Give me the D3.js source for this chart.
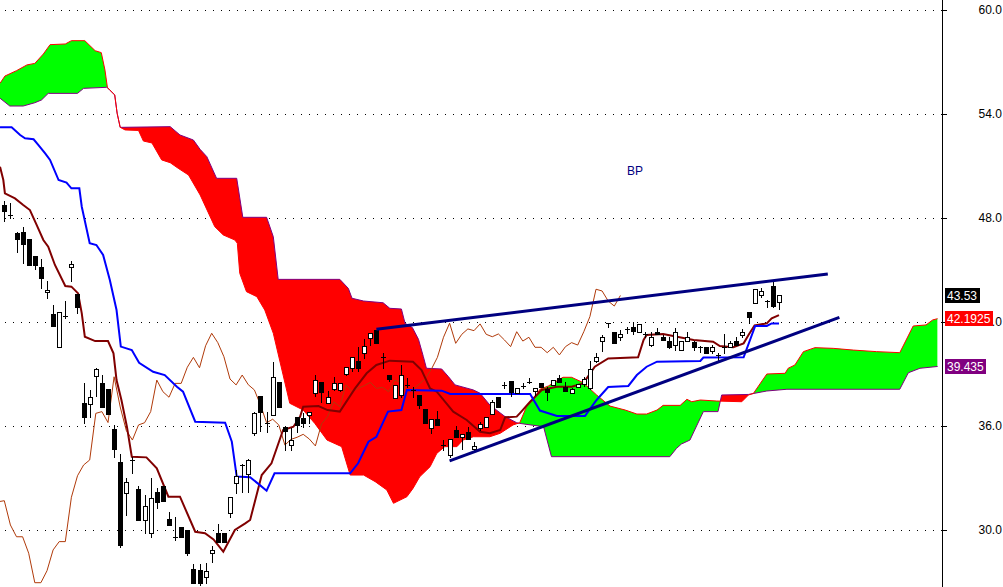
<!DOCTYPE html>
<html><head><meta charset="utf-8">
<script src="https://cdn.jsdelivr.net/npm/d3@7"></script>
<style>html,body{margin:0;padding:0;background:#fff;} svg{display:block;font-family:"Liberation Sans",Arial,sans-serif;}</style>
</head><body><svg id="chart" width="1003" height="587"></svg>
<script>
const title = "BP";
const yTicks = [30, 36, 42, 48, 54, 60];
const chikouShift = 26;

const open = [48.75,48.16,47.15,47.22,46.79,45.81,45.15,43.71,42.46,40.58,
42.36,45.16,43.62,37.34,37.27,38.88,38.46,38.13,35.81,33.91,
32.12,34.04,32.35,30.58,29.84,32.17,32.54,30.62,29.61,30.16,
30.00,27.73,27.69,27.27,28.69,29.81,29.85,31.00,32.69,33.75,
33.23,35.61,37.73,36.20,36.63,38.54,35.96,34.88,36.54,36.44,
36.63,37.89,38.52,37.34,38.12,38.08,39.00,39.33,39.75,40.19,
41.06,41.54,40.00,38.94,37.63,37.79,38.38,38.08,37.76,36.99,
35.87,36.43,34.90,34.33,35.77,35.35,35.64,34.66,35.87,35.96,
36.68,37.66,38.37,38.61,37.89,38.33,38.52,38.04,38.46,38.12,
38.36,38.75,38.27,37.92,38.27,38.42,38.17,39.77,40.92,41.93,
41.44,41.12,41.60,41.73,41.44,41.29,40.67,41.40,41.15,40.90,
40.67,40.39,40.90,40.86,40.54,40.58,40.34,40.10,40.58,40.58,
40.92,41.25,42.59,43.08,43.56,43.21,44.08,43.17];

const high = [49.00,48.88,47.22,47.47,46.79,45.81,45.63,44.37,42.98,42.56,
43.21,45.52,43.62,38.46,38.08,39.33,38.94,38.13,36.06,34.37,
33.02,34.23,32.54,32.02,32.98,32.40,32.54,31.06,30.77,30.16,
30.00,28.04,28.04,28.11,29.08,30.35,29.85,31.89,33.46,33.79,
34.08,36.83,37.73,36.83,39.71,38.54,35.96,35.89,36.54,36.73,
36.83,38.94,38.52,38.02,38.81,38.46,39.42,39.96,40.58,41.00,
41.35,41.54,40.19,38.94,38.37,39.52,38.75,38.27,37.76,36.99,
36.39,36.88,35.19,35.23,36.00,35.52,35.96,35.09,36.25,36.54,
37.50,37.66,38.56,38.61,38.17,38.50,38.75,38.17,38.46,38.27,
38.65,38.94,38.56,38.17,38.44,38.85,39.77,40.23,41.25,41.93,
41.44,41.54,41.69,41.98,41.89,41.44,41.44,41.63,41.25,41.15,
41.63,40.90,41.44,40.92,40.61,40.58,40.67,40.19,41.31,40.92,
41.15,41.58,42.59,43.89,43.94,43.27,44.33,43.55];

const low = [47.85,47.99,46.01,45.43,45.29,45.04,43.98,43.37,41.79,40.58,
42.21,44.38,42.50,36.19,36.54,37.73,37.11,36.69,34.19,29.03,
30.87,33.27,30.58,29.84,29.61,31.29,31.69,30.29,29.42,29.61,
28.56,26.96,26.83,26.96,28.17,29.33,29.33,30.77,32.15,32.21,
32.21,35.48,35.74,35.67,36.63,37.10,34.62,34.62,35.67,35.96,
36.19,37.73,37.40,37.31,38.08,38.00,38.94,39.19,39.17,39.91,
40.67,40.81,39.36,38.60,37.63,37.69,38.23,37.69,37.04,36.19,
35.58,36.06,34.62,34.19,35.35,34.66,35.25,34.62,35.77,35.96,
36.68,37.11,38.17,37.73,37.89,38.17,38.46,37.79,38.23,37.50,
38.36,38.52,38.04,37.90,38.27,38.33,38.12,39.71,40.34,41.73,
40.77,40.96,41.35,41.31,41.44,41.15,40.62,41.31,40.96,40.48,
40.39,40.39,40.90,40.39,40.29,40.23,40.23,39.71,40.23,40.54,
40.67,41.15,41.93,43.08,43.46,42.88,42.88,42.73];

const close = [48.42,48.16,46.81,46.51,45.29,45.29,44.55,43.85,41.79,42.56,
42.36,45.33,42.88,36.50,37.65,39.27,37.11,36.69,34.66,29.13,
32.75,34.04,30.58,31.38,31.86,31.63,31.69,30.29,29.61,29.61,
28.66,26.96,26.96,27.65,28.85,29.33,29.33,31.89,33.13,33.75,
34.04,36.73,36.83,36.20,38.84,37.10,35.74,35.19,36.06,36.19,
36.83,38.65,37.98,37.66,38.46,38.46,39.39,39.96,39.36,40.63,
41.35,40.81,40.00,38.71,38.37,38.94,38.38,38.08,37.21,36.19,
36.39,36.06,34.90,35.23,35.35,35.52,35.25,34.85,36.12,36.54,
37.40,37.11,38.37,37.98,38.17,38.33,38.52,38.17,38.23,37.98,
38.65,38.52,38.04,38.12,38.41,38.72,39.27,39.96,41.12,41.93,
40.77,41.29,41.60,41.50,41.89,41.29,41.15,41.31,40.96,40.58,
41.44,40.90,41.12,40.54,40.54,40.23,40.54,40.10,40.58,40.81,
40.67,41.44,42.31,43.89,43.79,43.21,42.92,43.53];

// [bar index, price]
const tenkan = [[-0.7,50.96],[-0.16,50.19],[0.1,49.42],[1.75,49.13],[3.1,48.75],[4.2,48.46],[5.3,47.60],[6.4,46.73],
[7.2,46.34],[8.3,45.29],[10.0,44.08],[11.0,44.04],[12.1,43.65],[12.7,42.50],[13.2,41.15],[14.9,40.90],[17.0,40.90],
[17.9,40.19],[18.4,38.65],[19.2,37.50],[20.1,35.96],[20.9,34.23],[23.3,34.19],[25.0,33.56],[26.9,31.92],[28.8,31.92],
[31.3,29.90],[32.9,29.81],[34.3,29.46],[35.9,28.75],[37.8,30.00],[39.5,30.38],[40.3,30.58],[42.2,33.17],[43.8,33.85],
[45.7,35.77],[47.4,35.96],[48.5,36.54],[49.0,37.11],[51.5,37.15],[53.0,36.92],[55.0,36.83],[57.5,38.17],[59.4,39.04],
[61.0,39.52],[63.2,39.77],[67.0,39.71],[68.4,39.23],[69.8,38.17],[70.9,37.98],[73.6,36.83],[75.8,36.35],[78.0,35.67],
[79.6,35.58],[81.3,35.77],[82.1,36.50],[84.0,36.54],[84.5,36.73],[86.2,37.40],[88.1,38.08],[90.6,38.27],[93.0,38.27],
[94.9,38.46],[96.8,39.42],[99.0,39.90],[103.9,39.96],[104.8,40.96],[105.3,41.25],[108.0,41.31],[113.0,40.96],
[116.2,40.86],[117.3,40.61],[119.5,40.54],[121.2,40.77],[122.0,41.25],[123.0,41.80],[125.0,41.92],[125.8,42.21],[127.0,42.40]];

const kijun = [[-0.7,53.23],[1.2,53.23],[2.6,52.79],[3.4,52.60],[4.8,52.54],[5.6,52.21],[6.7,51.73],[7.5,51.35],
[8.9,50.19],[10.2,50.04],[11.0,49.71],[12.3,49.71],[12.7,48.65],[14.0,46.54],[15.1,46.44],[16.2,45.87],[17.3,44.42],
[18.4,42.69],[19.1,40.58],[20.9,40.38],[22.1,39.65],[24.4,39.13],[26.3,38.94],[28.3,38.27],[29.3,37.98],[31.3,36.25],
[36.2,36.19],[37.3,35.09],[38.1,33.08],[40.3,33.04],[41.9,32.59],[43.0,32.27],[44.3,33.27],[56.7,33.27],[58.0,33.85],
[59.7,35.09],[61.0,35.38],[62.9,36.83],[65.1,36.92],[66.0,38.08],[71.7,38.04],[73.1,37.85],[86.2,37.85],[87.8,36.89],
[90.6,36.58],[95.2,36.58],[95.7,36.83],[97.1,37.50],[99.0,38.25],[102.3,38.31],[103.7,38.94],[105.3,39.42],[107.0,39.71],
[114.1,39.75],[114.6,39.95],[121.2,39.96],[123.1,41.77],[125.0,41.77],[125.8,41.92],[127.0,41.92]];

const spanA = [[-0.7,55.77],[0.1,56.19],[2.0,56.50],[3.7,56.83],[5.0,56.92],[6.4,57.46],[7.5,58.00],[10.0,58.04],
[11.0,58.23],[13.2,58.23],[14.9,57.65],[15.9,57.54],[16.5,56.54],[16.9,55.54],[17.3,55.38],[18.1,55.10],[18.5,54.04],
[19.0,53.23],[19.8,53.08],[22.0,53.05],[22.8,52.44],[24.2,52.33],[25.8,51.35],[27.2,51.19],[28.5,50.87],[30.2,50.48],
[32.1,49.33],[34.5,47.50],[35.9,47.02],[37.8,46.73],[38.2,46.54],[38.6,44.81],[39.7,43.75],[41.4,43.46],[42.7,42.69],
[44.1,41.35],[46.8,37.31],[49.0,36.92],[50.9,36.15],[52.9,35.19],[55.3,34.81],[56.7,33.17],[58.9,33.17],[60.8,32.79],
[62.7,32.31],[63.8,31.54],[66.0,31.92],[67.0,32.40],[68.1,33.07],[69.8,33.65],[70.9,34.42],[72.2,34.81],[74.2,34.81],
[75.2,35.19],[76.9,35.38],[79.6,35.38],[81.3,35.58],[83.4,36.06],[84.5,36.19],[85.6,37.11],[86.7,37.50],[87.8,38.12],
[89.2,38.31],[91.6,38.81],[93.0,38.81],[94.9,38.50],[97.1,37.79],[99.3,37.15],[101.8,36.92],[103.7,36.69],[105.3,36.69],
[107.0,36.92],[108.0,37.19],[110.8,37.19],[111.9,37.54],[112.7,37.40],[114.1,37.50],[116.8,37.44],[120.9,37.40],
[122.0,37.79],[122.8,37.88],[125.0,39.00],[128.0,39.04],[128.5,39.33],[129.6,39.52],[131.0,40.29],[132.9,40.52],
[135.9,40.48],[139.2,40.38],[143.0,40.29],[146.8,40.23],[149.0,41.77],[151.1,41.83],[152.2,42.12],[153.0,42.1925]];

const spanB = [[-0.7,54.91],[0.9,54.46],[3.1,54.46],[5.0,54.65],[6.1,54.81],[7.2,55.19],[12.0,55.19],[13.0,55.48],
[16.8,55.54],[17.3,55.38],[18.1,55.10],[18.5,54.04],[19.0,53.23],[27.2,53.27],[28.8,52.79],[31.0,52.50],[32.1,51.96],
[33.2,51.54],[34.8,50.29],[38.1,50.29],[39.1,48.04],[43.0,48.04],[44.1,46.92],[44.9,44.46],[55.0,44.46],[56.4,43.94],
[57.0,43.37],[58.9,43.21],[62.1,43.11],[63.2,42.79],[65.1,42.75],[65.7,41.92],[66.9,41.68],[67.9,41.00],[68.7,40.00],
[69.2,39.33],[71.7,39.29],[72.8,38.85],[73.9,38.37],[76.9,38.08],[78.0,37.89],[79.6,37.21],[82.1,36.54],[84.0,36.19],
[84.5,36.15],[88.4,35.96],[89.7,34.23],[109.1,34.23],[110.2,34.71],[111.0,34.96],[112.4,35.19],[114.6,36.83],
[117.0,36.83],[117.6,37.79],[122.0,37.82],[125.0,38.02],[128.3,38.12],[146.8,38.12],[148.2,39.07],[150.1,39.33],
[153.0,39.435]];

const trendUpper = [[61.0,41.58],[135.0,44.77]];
const trendLower = [[73.0,33.99],[136.9,42.27]];

const valueLabels = ["43.53","42.1925","39.435"];
const valueLevels = [43.53, 42.1925, 39.435];
const valueColors = ["#000000","#ff0000","#800080"];

// ---------- drawing ----------
const W = 1003, H = 587, plotRight = 942;
const svg = d3.select("#chart");
const x = d3.scaleLinear().domain([0, 154]).range([4.3, 4.3 + 154 * 6.1]);
const y = d3.scaleLinear().domain([30, 60]).range([530, 10]);
const px = d => x(d[0]), py = d => y(d[1]);

svg.append("rect").attr("width", W).attr("height", H).attr("fill", "#fff");
const defs = svg.append("defs");
defs.append("clipPath").attr("id", "plot").append("rect")
  .attr("x", 0).attr("y", 0).attr("width", plotRight).attr("height", H);
defs.append("clipPath").attr("id", "aboveB").append("path")
  .attr("d", d3.area().x(px).y0(0).y1(py)(spanB));
defs.append("clipPath").attr("id", "belowB").append("path")
  .attr("d", d3.area().x(px).y0(H).y1(py)(spanB));

// dotted grid
const grid = svg.append("g").attr("shape-rendering", "crispEdges");
grid.selectAll("line").data(yTicks).join("line")
  .attr("x1", 5).attr("x2", plotRight)
  .attr("y1", d => Math.round(y(d)) + 0.5).attr("y2", d => Math.round(y(d)) + 0.5)
  .attr("stroke", "#000").attr("stroke-dasharray", "1,7");

const plot = svg.append("g").attr("clip-path", "url(#plot)");

// cloud
plot.append("path").attr("d", d3.area().x(px).y0(H).y1(py)(spanA))
  .attr("fill", "#00ff00").attr("clip-path", "url(#aboveB)");
plot.append("path").attr("d", d3.area().x(px).y0(0).y1(py)(spanA))
  .attr("fill", "#ff0000").attr("clip-path", "url(#belowB)");

const line = d3.line().x(px).y(py);
plot.append("path").attr("d", line(spanB)).attr("fill", "none").attr("stroke", "#800080").attr("stroke-width", 1);
plot.append("path").attr("d", line(spanA)).attr("fill", "none").attr("stroke", "#ff0000").attr("stroke-width", 1);

// chikou (closes shifted back)
plot.append("path")
  .attr("d", d3.line().x((c, k) => x(k - chikouShift)).y(c => y(c))(close))
  .attr("fill", "none").attr("stroke", "#b03a0a").attr("stroke-width", 1);

// tenkan & kijun
plot.append("path").attr("d", line(tenkan)).attr("fill", "none").attr("stroke", "#800000").attr("stroke-width", 2);
plot.append("path").attr("d", line(kijun)).attr("fill", "none").attr("stroke", "#0000ff").attr("stroke-width", 2);

// candles
const cg = plot.append("g").attr("shape-rendering", "crispEdges");
close.forEach((c, i) => {
  const o = open[i], h = high[i], l = low[i];
  const cx = Math.round(x(i));
  cg.append("line").attr("x1", cx + 0.5).attr("x2", cx + 0.5)
    .attr("y1", Math.round(y(h))).attr("y2", Math.round(y(l)) + 1)
    .attr("stroke", "#000");
  if (c === o) {
    const yy = Math.round(y(c)) + 0.5;
    cg.append("line").attr("x1", cx - 2).attr("x2", cx + 3).attr("y1", yy).attr("y2", yy).attr("stroke", "#000");
  } else {
    const top = Math.round(y(Math.max(o, c))), bot = Math.round(y(Math.min(o, c)));
    cg.append("rect").attr("x", cx - 1.5).attr("y", top + 0.5)
      .attr("width", 4).attr("height", Math.max(bot - top, 1))
      .attr("fill", c > o ? "#fff" : "#000").attr("stroke", "#000");
  }
});

// trendlines
[trendUpper, trendLower].forEach(t => {
  plot.append("path").attr("d", line(t)).attr("fill", "none")
    .attr("stroke", "#000080").attr("stroke-width", 3);
});

// title
svg.append("text").attr("x", 627).attr("y", 175).attr("fill", "#000080")
  .attr("font-size", 12).text(title);

// axis
svg.append("line").attr("x1", plotRight + 0.5).attr("x2", plotRight + 0.5).attr("y1", 0).attr("y2", H)
  .attr("stroke", "#000").attr("shape-rendering", "crispEdges");
const axis = svg.append("g").attr("transform", `translate(${plotRight + 0.5},0)`)
  .call(d3.axisRight(y).tickValues(yTicks).tickFormat(d3.format(".1f")).tickSizeInner(4).tickSizeOuter(0).tickPadding(32));
axis.select(".domain").remove();
axis.selectAll("text").attr("font-size", 12).attr("font-family", "Liberation Sans, Arial, sans-serif").attr("fill", "#000");
axis.selectAll("line").attr("stroke", "#000").attr("shape-rendering", "crispEdges");

// last value boxes
valueLabels.forEach((lab, k) => {
  const yy = y(valueLevels[k]);
  const g = svg.append("g");
  const t = g.append("text").attr("x", plotRight + 5).attr("y", yy + 4.5)
    .attr("font-size", 12).attr("fill", "#fff").text(lab);
  const w = t.node().getComputedTextLength();
  g.insert("rect", "text").attr("x", plotRight + 3).attr("y", Math.round(yy - 7.5))
    .attr("width", Math.ceil(w) + 4).attr("height", 15).attr("fill", valueColors[k]);
});
</script>
</body></html>
